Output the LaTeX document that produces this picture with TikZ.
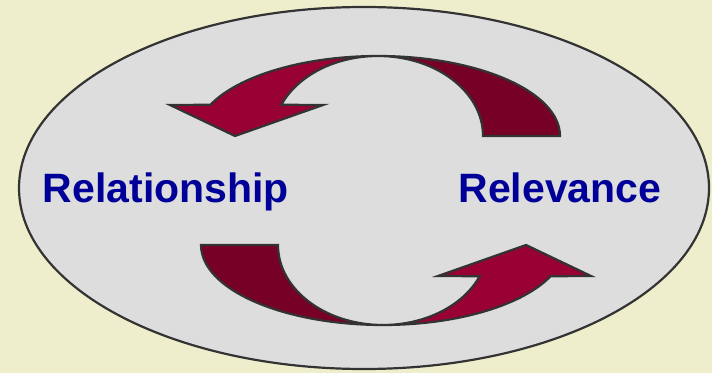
\documentclass[tikz,border=0pt]{standalone}
\usepackage{fontspec}
\setmainfont{Liberation Sans}
\usepackage{tikz}
\definecolor{paper}{RGB}{238,238,204}
\definecolor{disc}{RGB}{221,221,221}
\definecolor{rim}{RGB}{51,51,51}
\definecolor{wine}{RGB}{153,0,51}
\definecolor{darkwine}{RGB}{119,0,38}
\definecolor{navyword}{RGB}{0,0,153}
% one half-turn arrow, drawn round the origin
\newcommand{\halfturn}{%
  \fill[tail] (0,80) arc[start angle=90, end angle=0, x radius=182, y radius=80]
    -- (105,0) arc[start angle=0, end angle=90, x radius=105, y radius=80] -- cycle;
  \fill[head] (0,80) arc[start angle=90, end angle=157, x radius=182, y radius=80]
    -- (-208,31) -- (-143,0) -- (-55,31) -- (157:105 and 80)
    arc[start angle=157, end angle=90, x radius=105, y radius=80] -- cycle;
}

\begin{document}
\begin{tikzpicture}[
  x=1pt, y=1pt,
  oval/.style={draw=rim, line width=2.2pt, fill=disc},
  tail/.style={draw=rim, line width=2.2pt, line join=miter, fill=darkwine},
  head/.style={draw=rim, line width=2.2pt, line join=miter, fill=wine},
  word/.style={anchor=base, text=navyword, font=\fontsize{41}{41}\selectfont\bfseries},
]

% ============================================================
% BACKGROUND and the big oval
% ============================================================
\fill[paper] (0,0) rectangle (712,373);
\useasboundingbox (0,0) rectangle (712,373);
\draw[oval] (364,185) ellipse[x radius=345, y radius=181];

% ============================================================
% TWO HALF-TURN ARROWS (top turns left, bottom turns right)
% ============================================================
\begin{scope}[shift={(378,237)}]
  \halfturn
\end{scope}
\begin{scope}[shift={(383,128)}, rotate=180]
  \halfturn
\end{scope}

% ============================================================
% WORDS
% ============================================================
\node[word] (relship) at (166,171) {Relationship};
\node[word] (relev)   at (560,171) {Relevance};

\end{tikzpicture}
\end{document}
